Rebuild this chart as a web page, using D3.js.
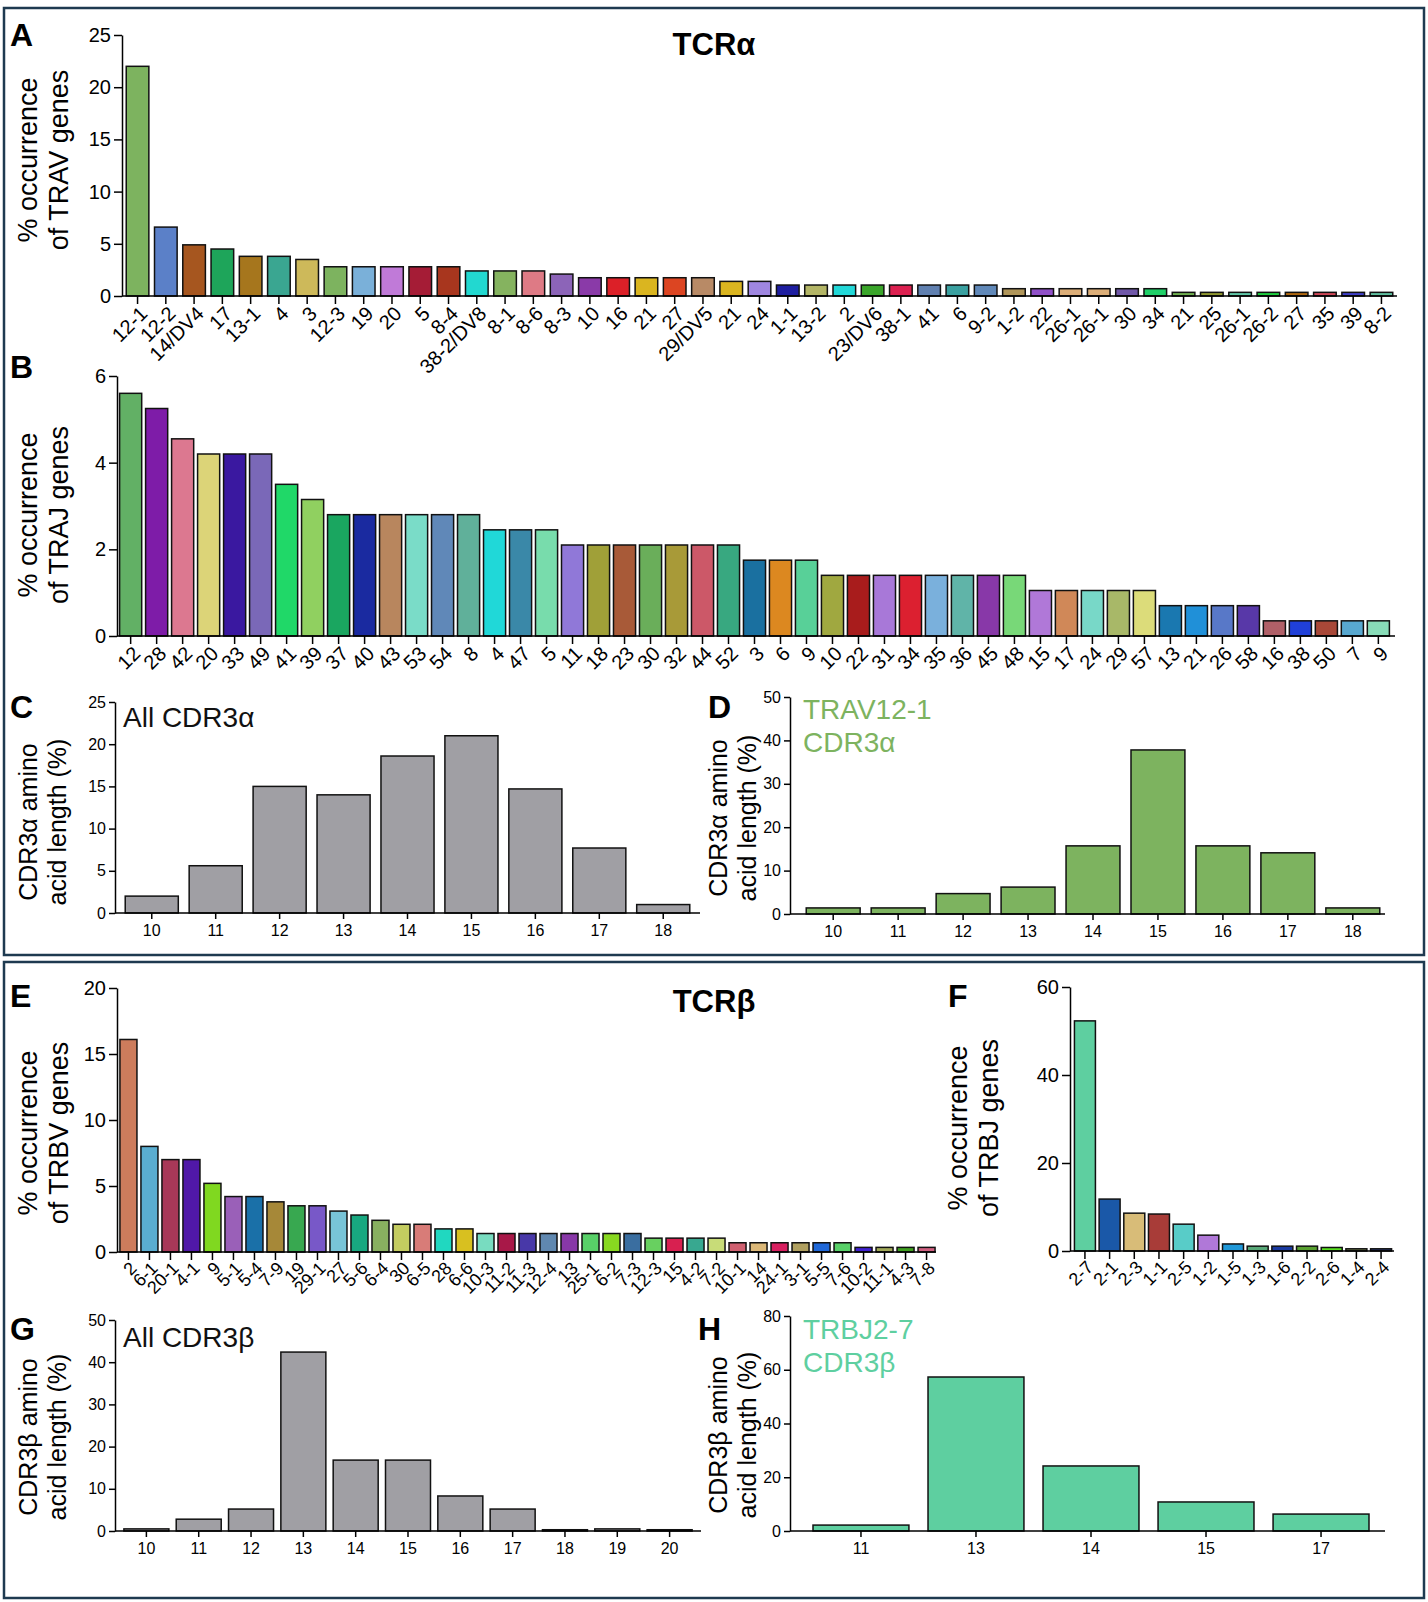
<!DOCTYPE html>
<html>
<head>
<meta charset="utf-8">
<script src="https://cdn.jsdelivr.net/npm/d3@7/dist/d3.min.js"></script>
<style>
body { margin: 0; background: #fff; }
svg { display: block; font-family: "Liberation Sans", Arial, sans-serif; }
.axis path, .axis line { stroke: #000; stroke-width: 1.5px; }
.axis text { fill: #000; }
.narrow { font-family: "Liberation Sans Narrow", "Liberation Sans", Arial, sans-serif; }
</style>
</head>
<body>
<div id="main"></div>
<script>
// A: TRAV usage
const travGenes = ['12-1', '12-2', '14/DV4', '17', '13-1', '4', '3', '12-3', '19', '20', '5', '8-4', '38-2/DV8', '8-1', '8-6', '8-3',
  '10', '16', '21', '27', '29/DV5', '21', '24', '1-1', '13-2', '2', '23/DV6', '38-1', '41', '6', '9-2', '1-2', '22', '26-1', '26-1',
  '30', '34', '21', '25', '26-1', '26-2', '27', '35', '39', '8-2'];
const travValues = [22.0, 6.6, 4.9, 4.5, 3.8, 3.8, 3.5, 2.8, 2.8, 2.8, 2.8, 2.8, 2.4, 2.4, 2.4, 2.1,
  1.75, 1.75, 1.75, 1.75, 1.75, 1.4, 1.4, 1.05, 1.05, 1.05, 1.05, 1.05, 1.05, 1.05, 1.05, 0.7, 0.7, 0.7, 0.7,
  0.7, 0.7, 0.35, 0.35, 0.35, 0.35, 0.35, 0.35, 0.35, 0.35];
const travColors = ['#7db35f', '#5b80c8', '#a6561f', '#1ea55a', '#a6761d', '#3aa691', '#cdb95a', '#7db35f', '#7ab0d9', '#c07ad8',
  '#a51c36', '#a8361e', '#22d8d0', '#85b35f', '#de7a85', '#8c64b8', '#8a3aa8', '#dc2028', '#dab520', '#dc4522', '#b88a66',
  '#dab520', '#9f86e0', '#1e1ea0', '#b3b566', '#22d8d8', '#3aa52a', '#dc2050', '#6080b0', '#3aa0a0', '#6088b8', '#b0965a',
  '#9050c8', '#dcae78', '#dcae78', '#7058a8', '#20d068', '#70b050', '#909830', '#60c8a8', '#20d040', '#b06810', '#d04858',
  '#4040c8', '#60c0a0'];

// B: TRAJ usage
const trajGenes = ['12', '28', '42', '20', '33', '49', '41', '39', '37', '40', '43', '53', '54', '8', '4', '47', '5', '11', '18',
  '23', '30', '32', '44', '52', '3', '6', '9', '10', '22', '31', '34', '35', '36', '45', '48', '15', '17', '24', '29', '57',
  '13', '21', '26', '58', '16', '38', '50', '7', '9'];
const trajValues = [5.6, 5.25, 4.55, 4.2, 4.2, 4.2, 3.5, 3.15, 2.8, 2.8, 2.8, 2.8, 2.8, 2.8, 2.45, 2.45, 2.45, 2.1, 2.1,
  2.1, 2.1, 2.1, 2.1, 2.1, 1.75, 1.75, 1.75, 1.4, 1.4, 1.4, 1.4, 1.4, 1.4, 1.4, 1.4, 1.05, 1.05, 1.05, 1.05, 1.05,
  0.7, 0.7, 0.7, 0.7, 0.35, 0.35, 0.35, 0.35, 0.35];
const trajColors = ['#62b065', '#7e1ca8', '#dc7890', '#dcd478', '#3a18a0', '#7a68b8', '#20d868', '#90d060', '#1aa660', '#1a2aa0',
  '#b8865e', '#7adcc8', '#6088b8', '#60b09a', '#20d8d8', '#3a88a8', '#78dcac', '#9078d8', '#a0a038', '#a85a38', '#6aae5a',
  '#a89a38', '#cc5868', '#38a880', '#1a70a0', '#dc8820', '#58d098', '#a0a840', '#a81c1c', '#a878d8', '#dc2030', '#7ab0dc',
  '#60b4a8', '#8838a8', '#78d878', '#b078d8', '#d08858', '#78d8c8', '#a8b868', '#dcdc7a', '#1a78b0', '#2090d8', '#5878c8',
  '#5838a8', '#b06068', '#2040d8', '#a84838', '#58a8d0', '#88dcb8'];

// C, D: CDR3 alpha lengths
const cdr3aLengths = ['10', '11', '12', '13', '14', '15', '16', '17', '18'];
const cdr3aAll = [2.0, 5.6, 15.0, 14.0, 18.6, 21.0, 14.7, 7.7, 1.0];
const cdr3aTrav121 = [1.4, 1.4, 4.7, 6.2, 15.7, 37.8, 15.7, 14.1, 1.4];

// E: TRBV usage
const trbvGenes = ['2', '6-1', '20-1', '4-1', '9', '5-1', '5-4', '7-9', '19', '29-1', '27', '5-6', '6-4', '30', '6-5', '28',
  '6-6', '10-3', '11-2', '11-3', '12-4', '13', '25-1', '6-2', '7-3', '12-3', '15', '4-2', '7-2', '10-1', '14', '24-1', '3-1',
  '5-5', '7-6', '10-2', '11-1', '4-3', '7-8'];
const trbvValues = [16.1, 8.0, 7.0, 7.0, 5.2, 4.2, 4.2, 3.8, 3.5, 3.5, 3.1, 2.8, 2.4, 2.1, 2.1, 1.75,
  1.75, 1.4, 1.4, 1.4, 1.4, 1.4, 1.4, 1.4, 1.4, 1.05, 1.05, 1.05, 1.05, 0.7, 0.7, 0.7, 0.7,
  0.7, 0.7, 0.35, 0.35, 0.35, 0.35];
const trbvColors = ['#cd7c5c', '#5aadd0', '#a83858', '#5018a8', '#80d820', '#9a60b8', '#1a70a8', '#a68838', '#38a850', '#7858c8',
  '#78c4d8', '#18a880', '#88b060', '#c4cc60', '#d87c78', '#20d8c0', '#d8c020', '#78dcc0', '#a81848', '#4838a8', '#6088b0',
  '#8838a8', '#58d068', '#88d820', '#3a6ea0', '#68d060', '#d82050', '#38a890', '#c8dc78', '#d06070', '#dcb878', '#d82060',
  '#b0a060', '#2068d8', '#58d068', '#4020d0', '#a0a858', '#40a020', '#d06080'];

// F: TRBJ usage
const trbjGenes = ['2-7', '2-1', '2-3', '1-1', '2-5', '1-2', '1-5', '1-3', '1-6', '2-2', '2-6', '1-4', '2-4'];
const trbjValues = [52.3, 11.8, 8.6, 8.4, 6.1, 3.6, 1.6, 1.1, 1.1, 1.1, 0.8, 0.5, 0.5];
const trbjColors = ['#5ecfa0', '#1a58a8', '#d8bc78', '#a83c38', '#58ccc8', '#b078d8', '#2098d8', '#58a878', '#1a3aa0',
  '#58a030', '#58e020', '#788850', '#283878'];

// G, H: CDR3 beta lengths
const cdr3bLengths = ['10', '11', '12', '13', '14', '15', '16', '17', '18', '19', '20'];
const cdr3bAll = [0.5, 2.8, 5.2, 42.4, 16.8, 16.8, 8.3, 5.2, 0.3, 0.5, 0.3];
const cdr3bJ27Lengths = ['11', '13', '14', '15', '17'];
const cdr3bTrbj27 = [2.2, 57.3, 24.2, 10.8, 6.3];

const W = 1428;
const H = 1602;
const grey = '#a09fa4';
const green = '#7db35f';
const mint = '#5ecfa0';

const svg = d3.select('#main')
  .append('svg')
  .attr('width', W)
  .attr('height', H);

// frames
svg.append('rect').attr('x', 4).attr('y', 8).attr('width', 1420).attr('height', 947)
  .attr('fill', 'none').attr('stroke', '#1e3a50').attr('stroke-width', 2.5);
svg.append('rect').attr('x', 4).attr('y', 962).attr('width', 1420).attr('height', 636)
  .attr('fill', 'none').attr('stroke', '#1e3a50').attr('stroke-width', 2.5);

function barPanel(p) {
  const g = svg.append('g');
  const x = d3.scaleBand()
    .domain(d3.range(p.cats.length))
    .range([p.left, p.right])
    .paddingInner(p.padIn)
    .paddingOuter(p.padOut);
  const y = d3.scaleLinear()
    .domain([0, p.max])
    .range([p.bottom, p.top]);

  g.selectAll('rect')
    .data(p.vals)
    .enter()
    .append('rect')
    .attr('x', (d, i) => x(i))
    .attr('y', d => y(d))
    .attr('width', x.bandwidth())
    .attr('height', d => p.bottom - y(d))
    .attr('fill', (d, i) => (p.colors ? p.colors[i] : p.fill))
    .attr('stroke', '#111')
    .attr('stroke-width', 1.5);

  const xAxis = d3.axisBottom(x)
    .tickFormat(i => p.cats[i])
    .tickSize(p.tick)
    .tickSizeOuter(0);
  const xg = g.append('g')
    .attr('class', 'axis')
    .attr('transform', `translate(0, ${p.bottom})`)
    .call(xAxis);
  xg.select('.domain').attr('d', `M${p.left},0H${p.axisEnd}`);

  if (p.rotate) {
    xg.selectAll('text')
      .attr('x', 0)
      .attr('y', 0)
      .attr('dy', '0.35em')
      .attr('transform', `translate(${p.labelDx}, ${p.labelDy}) rotate(-45)`)
      .style('text-anchor', 'end')
      .style('font-size', `${p.xFont}px`);
  } else {
    xg.selectAll('text')
      .attr('class', 'narrow')
      .attr('y', p.tick + 6)
      .style('font-size', `${p.xFont}px`);
  }

  const yAxis = d3.axisLeft(y)
    .tickValues(p.ticks)
    .tickSize(p.tick)
    .tickSizeOuter(0)
    .tickFormat(d3.format('d'));
  const yg = g.append('g')
    .attr('class', 'axis')
    .attr('transform', `translate(${p.left}, 0)`)
    .call(yAxis);
  yg.selectAll('text')
    .attr('class', p.rotate ? null : 'narrow')
    .style('font-size', `${p.yFont}px`);

  // y label, two lines
  p.ylabel.forEach((t, i) => {
    svg.append('text')
      .attr('transform', `translate(${p.ylx[i]}, ${p.lyc}) rotate(-90)`)
      .attr('text-anchor', 'middle')
      .style('font-size', `${p.ylFont}px`)
      .text(t);
  });
}

barPanel({
  cats: travGenes, vals: travValues, colors: travColors,
  left: 122, right: 1397, axisEnd: 1397, top: 35, bottom: 296, max: 25, ticks: [0, 5, 10, 15, 20, 25],
  padIn: 0.2, padOut: 0.15, tick: 8, rotate: true, labelDx: 6, labelDy: 14, xFont: 20, yFont: 20,
  ylabel: ['% occurrence', 'of TRAV genes'], ylx: [37, 68], lyc: 160, ylFont: 27
});

barPanel({
  cats: trajGenes, vals: trajValues, colors: trajColors,
  left: 117, right: 1392, axisEnd: 1395, top: 376, bottom: 636, max: 6, ticks: [0, 2, 4, 6],
  padIn: 0.15, padOut: 0.1, tick: 8, rotate: true, labelDx: 6, labelDy: 14, xFont: 20, yFont: 20,
  ylabel: ['% occurrence', 'of TRAJ genes'], ylx: [37, 68], lyc: 515, ylFont: 27
});

barPanel({
  cats: cdr3aLengths, vals: cdr3aAll, fill: grey,
  left: 115, right: 700, axisEnd: 700, top: 702, bottom: 913, max: 25, ticks: [0, 5, 10, 15, 20, 25],
  padIn: 0.17, padOut: 0.16, tick: 6, rotate: false, xFont: 16, yFont: 16,
  ylabel: ['CDR3\u03b1 amino', 'acid length (%)'], ylx: [37, 66], lyc: 822, ylFont: 25
});

barPanel({
  cats: cdr3aLengths, vals: cdr3aTrav121, fill: green,
  left: 790, right: 1396, axisEnd: 1385, top: 697, bottom: 914, max: 50, ticks: [0, 10, 20, 30, 40, 50],
  padIn: 0.17, padOut: 0.25, tick: 6, rotate: false, xFont: 16, yFont: 16,
  ylabel: ['CDR3\u03b1 amino', 'acid length (%)'], ylx: [727, 756], lyc: 818, ylFont: 25
});

barPanel({
  cats: trbvGenes, vals: trbvValues, colors: trbvColors,
  left: 117, right: 938, axisEnd: 936, top: 988, bottom: 1252, max: 20, ticks: [0, 5, 10, 15, 20],
  padIn: 0.19, padOut: 0.14, tick: 8, rotate: true, labelDx: 5, labelDy: 13, xFont: 18, yFont: 20,
  ylabel: ['% occurrence', 'of TRBV genes'], ylx: [37, 68], lyc: 1133, ylFont: 27
});

barPanel({
  cats: trbjGenes, vals: trbjValues, colors: trbjColors,
  left: 1070, right: 1396, axisEnd: 1394, top: 987, bottom: 1251, max: 60, ticks: [0, 20, 40, 60],
  padIn: 0.15, padOut: 0.18, tick: 8, rotate: true, labelDx: 5, labelDy: 13, xFont: 18, yFont: 20,
  ylabel: ['% occurrence', 'of TRBJ genes'], ylx: [967, 998], lyc: 1128, ylFont: 27
});

barPanel({
  cats: cdr3bLengths, vals: cdr3bAll, fill: grey,
  left: 115, right: 701, axisEnd: 701, top: 1320, bottom: 1531, max: 50, ticks: [0, 10, 20, 30, 40, 50],
  padIn: 0.14, padOut: 0.17, tick: 6, rotate: false, xFont: 16, yFont: 16,
  ylabel: ['CDR3\u03b2 amino', 'acid length (%)'], ylx: [37, 66], lyc: 1437, ylFont: 25
});

barPanel({
  cats: cdr3bJ27Lengths, vals: cdr3bTrbj27, fill: mint,
  left: 790, right: 1392, axisEnd: 1385, top: 1316, bottom: 1531, max: 80, ticks: [0, 20, 40, 60, 80],
  padIn: 0.166, padOut: 0.2, tick: 6, rotate: false, xFont: 16, yFont: 16,
  ylabel: ['CDR3\u03b2 amino', 'acid length (%)'], ylx: [727, 756], lyc: 1435, ylFont: 25
});

// panel letters
const letters = [['A', 10, 46], ['B', 10, 378], ['C', 10, 718], ['D', 708, 718],
  ['E', 10, 1007], ['F', 948, 1007], ['G', 10, 1340], ['H', 698, 1340]];
svg.selectAll('.letter')
  .data(letters)
  .enter()
  .append('text')
  .attr('class', 'letter')
  .attr('x', d => d[1])
  .attr('y', d => d[2])
  .style('font-size', '32px')
  .style('font-weight', 'bold')
  .text(d => d[0]);

// titles
svg.append('text').attr('x', 714).attr('y', 55).attr('text-anchor', 'middle')
  .style('font-size', '31px').style('font-weight', 'bold').text('TCR\u03b1');
svg.append('text').attr('x', 714).attr('y', 1012).attr('text-anchor', 'middle')
  .style('font-size', '31px').style('font-weight', 'bold').text('TCR\u03b2');

// in-panel annotations
const notes = [['All CDR3\u03b1', 123, 727, '#111'], ['TRAV12-1', 803, 719, green], ['CDR3\u03b1', 803, 752, green],
  ['All CDR3\u03b2', 123, 1347, '#111'], ['TRBJ2-7', 803, 1339, mint], ['CDR3\u03b2', 803, 1372, mint]];
svg.selectAll('.note')
  .data(notes)
  .enter()
  .append('text')
  .attr('class', 'note narrow')
  .attr('x', d => d[1])
  .attr('y', d => d[2])
  .attr('fill', d => d[3])
  .style('font-size', '28px')
  .text(d => d[0]);
</script>
</body>
</html>
